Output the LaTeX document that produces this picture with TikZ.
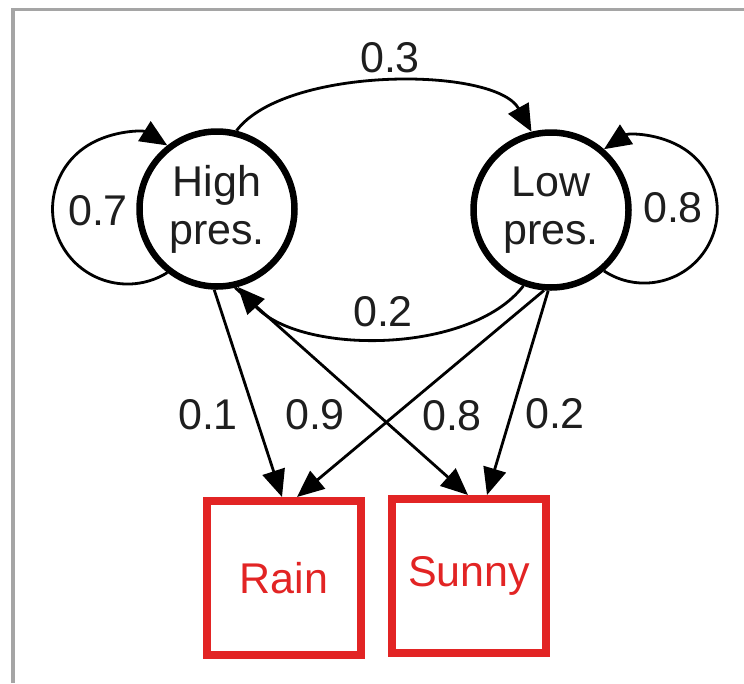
\documentclass[tikz,border=0pt]{standalone}
\usepackage{fontspec}
\setmainfont{Liberation Sans}
\usetikzlibrary{arrows.meta}
\definecolor{boxred}{RGB}{226,36,36}
\definecolor{framegray}{RGB}{165,165,165}
\definecolor{inkgray}{RGB}{30,30,30}
\begin{document}
\begin{tikzpicture}[x=1pt,y=1pt,
  state/.style={circle,draw=black,line width=6.5pt,minimum size=155pt,inner sep=0pt,align=center,text=inkgray,font=\fontsize{43}{48}\selectfont},
  outbox/.style={rectangle,draw=boxred,text=boxred,line width=8pt,minimum width=154pt,minimum height=154pt,inner sep=0pt,font=\fontsize{43}{48}\selectfont},
  lab/.style={inner sep=0pt,text=inkgray,font=\fontsize{43}{48}\selectfont},
  edge/.style={line width=2.8pt,-{Triangle[length=27pt,width=23pt]}},
]
\useasboundingbox (0,0) rectangle (744,-683);
\fill[white] (0,0) rectangle (744,-683);
\draw[framegray,line width=3.5pt] (13,-683) -- (13,-9.5) -- (744,-9.5);

\node[state] (high) at (217,-209) {High\\pres.};
\node[state] (low) at (551,-210) {Low\\pres.};
\node[outbox] (rain) at (284,-578) {Rain};
\node[outbox] (sunny) at (469,-576) {Sunny};

% self loops
\draw[edge] (high.232) arc[start angle=-58,end angle=-302,radius=75];
\draw[edge] (low.311) arc[start angle=-123.5,end angle=123.5,radius=73];

% transitions between states
\draw[edge] (high.76) .. controls (285,-66) and (495,-66) .. (low.104);
\draw[edge] (low.250) .. controls (470,-355) and (300,-355) .. (high.285);

% emissions
\draw[edge] (high.268) -- ([xshift=-2pt]rain.north);
\draw[edge] (high.283) -- ([xshift=-1pt]sunny.north);
\draw[edge] (low.265) -- ([xshift=13pt]rain.north);
\draw[edge] (low.268) -- ([xshift=18pt]sunny.north);

% labels
\node[lab] (l03) at (390,-58) {0.3};
\node[lab] (l07) at (98,-211) {0.7};
\node[lab] (l08a) at (673,-208) {0.8};
\node[lab] (l02a) at (383,-312) {0.2};
\node[lab] (l01) at (208,-415) {0.1};
\node[lab] (l09) at (315,-415) {0.9};
\node[lab] (l08b) at (452,-416) {0.8};
\node[lab] (l02b) at (555,-414) {0.2};
\end{tikzpicture}
\end{document}
